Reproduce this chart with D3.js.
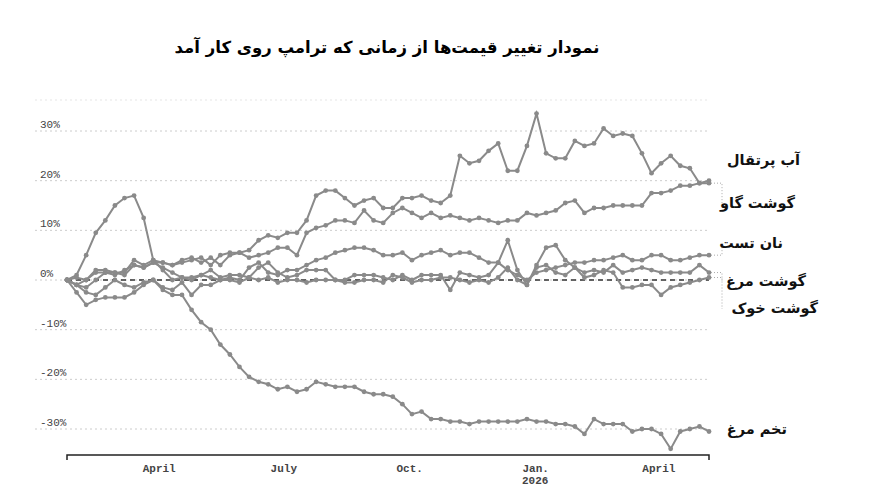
<!DOCTYPE html>
<html>
<head>
<meta charset="utf-8">
<style>
  body { margin: 0; background: #fff; }
  svg { font-family: 'DejaVu Sans', sans-serif; }
  .grid line { stroke: #ccc; stroke-dasharray: 2,3; }
  .tick text { font-family: 'Liberation Mono', 'DejaVu Sans Mono', monospace; fill: #444; }
</style>
</head>
<body>
<div id="chart"></div>
<script src="https://d3js.org/d3.v7.min.js"></script>
<script>
const startDate = new Date(2025, 0, 24);

// weekly % change since start
const orangeJuice = [0,1,5,9.5,12,15,16.5,17,12.5,
  4,3.5,3,3.5,4,4.5,3,5,5.5,5.5,6,8,9,8.5,9.5,9.5,12,17,18,18,16.5,15,16,16.5,14.5,14.5,16.5,16.5,17,16,
  15.5,17,25,23.5,24,26,27.5,22,22,27,33.5,25.5,24.5,24.5,28,27,27.5,30.5,29,29.5,29,25.5,21.5,23.5,25,23,22.5,19.5,20];
const beef = [0,-1,0,1.5,1.5,1,2,3,2.5,3.5,3.5,3,4,4.5,3.5,4.5,3,5,5.5,4.5,
  5,5.5,6.5,6.5,5,9.5,10.5,11,12,12,11.5,14,12,11.5,13.5,14.5,13.5,12.5,13.5,12.5,
  13,12.5,12,12.5,12,11.5,12,12,13.5,13,13.5,14,15.5,16,13.5,14.5,14.5,15,15,15,
  15,17.5,17.5,18,19,19,19.5,19.5];
const toast = [0,0.5,0,2,2,1.5,1.5,4,3,4,2,0,0.5,0,1,0.5,0,0.5,0,2.5,
  3.5,1.5,1,2,2,3,4,4.5,5.5,6,6.5,6.5,6,5,5,5.5,4,5,5.5,6,
  5,5.5,5.5,4.5,3.5,3.5,2,1,0,1.5,2,2.5,3,3.5,3.5,4,4,4.5,5,4,
  4,5,5,4,4,4.5,5,5];
const chicken = [0,-1,-1.5,0,1.5,1.5,1,3,2.5,3.5,2.5,1.5,0.5,0.5,1,2,0.5,1,1,0.5,
  2.5,3.5,1.5,0.5,1,2,2,2,0,0,1,1,1,0.5,0,1,0,1,1,1,
  -2,1.5,1,0.5,1,3.5,8,2,-1,3,6.5,7,4,2.5,1.5,2,1.5,3,1.5,2,
  2.5,2,1.5,1.5,1.5,1.5,3,1.5];
const pork = [0,-2.5,-5,-4,-3.5,-3.5,-3.5,-2.5,-1,0,-1.5,-2,-0.5,-3,-1,-1,0,0,-0.5,0.5,
  0,0.5,-0.5,0,0,-0.5,0,0,0,-0.5,-0.5,0,0,-0.5,1,0.5,-0.5,0,0,0.5,
  0.5,0,-0.5,0,-0.5,0.5,2.5,0,-1,2.5,3,1.5,1,2.5,0.5,1,2,1.5,-1.5,-1.5,
  -1,-1,-3,-1.5,-1,-0.5,0,0.5];
const eggs = [0,-1,-2.5,-3,-1.5,0,-1,-1.5,-0.5,0,-2,-3,-3,-6,-8.5,-10,-13,-15,-17.5,-19.5,
  -20.5,-21,-22,-21.5,-22.5,-22,-20.5,-21,-21.5,-21.5,-21.5,-22.5,-23,-23,-23.5,-25,-27,-26.5,-28,-28,
  -28.5,-28.5,-29,-28.5,-28.5,-28.5,-28.5,-28.5,-28,-28.5,-28.5,-29,-29,-29.5,-31,-28,-29,-29,-29,-30.5,
  -30,-30,-31,-34,-30.5,-30,-29.5,-30.5];

const seriesNames = ["آب پرتقال", "گوشت گاو", "نان تست", "گوشت مرغ", "گوشت خوک", "تخم مرغ"];
const seriesValues = [orangeJuice, beef, toast, chicken, pork, eggs];
const labelY = [165, 208, 248, 286, 313, 434];
const yTicks = [30, 20, 10, 0, -10, -20, -30];
const xTicks = [[new Date(2025,3,1), "April"], [new Date(2025,6,1), "July"], [new Date(2025,9,1), "Oct."],
                [new Date(2026,0,1), "Jan."], [new Date(2026,3,1), "April"]];

const W = 884, H = 494;
const svg = d3.select("#chart").append("svg").attr("width", W).attr("height", H);

const endDate = d3.timeDay.offset(startDate, 7 * 67);
const x = d3.scaleTime().domain([startDate, endDate]).range([67, 709]);
const y = d3.scaleLinear().domain([-30, 30]).range([429, 131]);
const dateAt = i => d3.timeDay.offset(startDate, 7 * i);

svg.append("text").attr("x", 387).attr("y", 53).attr("text-anchor", "middle")
  .attr("font-size", 16.5).attr("font-weight", "bold").attr("direction", "rtl")
  .text("نمودار تغییر قیمت‌ها از زمانی که ترامپ روی کار آمد");

// grid
svg.append("g").attr("class", "grid").selectAll("line").data(yTicks).join("line")
  .attr("x1", 35).attr("x2", 710).attr("y1", d => y(d)).attr("y2", d => y(d));
svg.append("g").attr("class", "grid").append("line")
  .attr("x1", 35).attr("x2", 710).attr("y1", 100).attr("y2", 100).attr("stroke-opacity", 0.5);

svg.append("g").selectAll("text").data(yTicks).join("text")
  .attr("x", 40).attr("y", d => y(d) - 3)
  .attr("font-family", "'Liberation Mono', monospace").attr("font-size", 11).attr("fill", "#444")
  .text(d => d + "%");

svg.append("line").attr("x1", x(startDate)).attr("x2", x(endDate))
  .attr("y1", y(0)).attr("y2", y(0)).attr("stroke", "#333").attr("stroke-width", 1.5)
  .attr("stroke-dasharray", "5,4");

const line = d3.line().x((d, i) => x(dateAt(i))).y(d => y(d));
seriesValues.forEach(vals => {
  svg.append("path").datum(vals).attr("d", line).attr("fill", "none")
    .attr("stroke", "#8a8a8a").attr("stroke-width", 2);
  svg.append("g").selectAll("circle").data(vals).join("circle")
    .attr("cx", (d, i) => x(dateAt(i))).attr("cy", d => y(d)).attr("r", 2.4).attr("fill", "#8a8a8a");
});

// labels and leaders
seriesNames.forEach((n, k) => {
  const vals = seriesValues[k];
  const ey = y(vals[vals.length - 1]);
  if (k !== 0 && k !== 5) {
    svg.append("path").attr("d", `M${x(endDate)+2},${ey} H722 V${labelY[k]-4}`)
      .attr("fill", "none").attr("stroke", "#aaa").attr("stroke-dasharray", "1,2");
  }
  svg.append("text").attr("x", [800, 795, 783, 806, 818, 787][k]).attr("y", labelY[k])
    .attr("text-anchor", "end").attr("direction", "ltr").attr("font-size", 14.5)
    .attr("font-weight", "bold").attr("fill", "#111").text(n);
});

// x axis
const xAxis = svg.append("g").attr("transform", "translate(0,455)")
  .call(d3.axisBottom(x).tickValues(xTicks.map(d => d[0])).tickSize(0)
    .tickFormat((d, i) => xTicks[i][1]));
xAxis.select(".domain").attr("stroke", "#222").attr("stroke-width", 1.5)
  .attr("d", `M${x(startDate)},5V0H${x(endDate)}V5`);
xAxis.selectAll(".tick text").attr("font-size", 11).attr("font-weight", "bold").attr("dy", "1.3em");
svg.append("text").attr("x", x(xTicks[3][0])).attr("y", 484).attr("text-anchor", "middle")
  .attr("font-family", "'Liberation Mono', monospace").attr("font-size", 11)
  .attr("font-weight", "bold").attr("fill", "#444").text("2026");
</script>
</body>
</html>
